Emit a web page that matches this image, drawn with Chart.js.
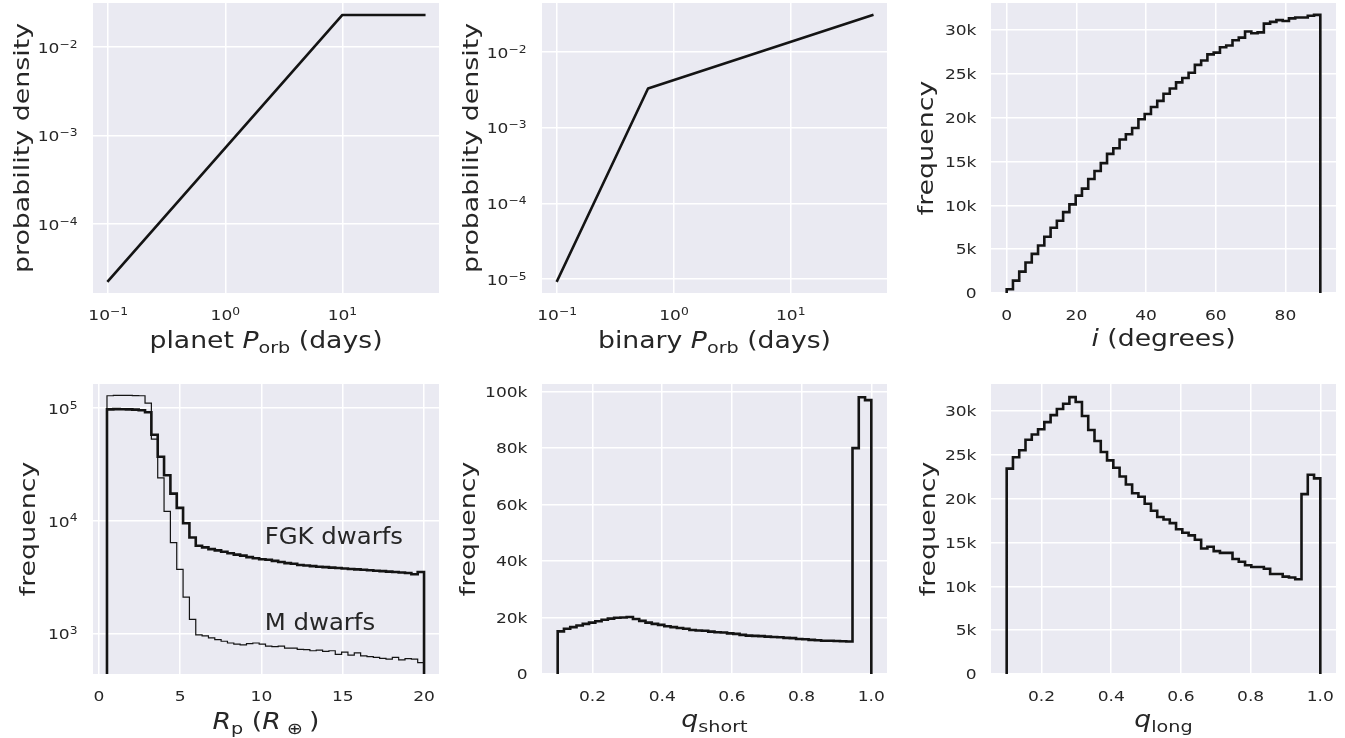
<!DOCTYPE html>
<html><head><meta charset="utf-8">
<script src="https://cdn.jsdelivr.net/npm/chart.js@4.4.1/dist/chart.umd.min.js"></script>
<style>
html,body{margin:0;padding:0;background:#fff;width:1345px;height:738px;overflow:hidden}
canvas{position:absolute}
</style></head><body>
<canvas id="c1"></canvas><canvas id="c2"></canvas><canvas id="c3"></canvas>
<canvas id="c4"></canvas><canvas id="c5"></canvas><canvas id="c6"></canvas>
<script>
// ---------------- DATA ----------------
const planetPeriod = [0.1, 10, 50];
const planetDensity = [2.27e-5, 0.023, 0.023];
const binaryPeriod = [0.1, 0.6, 50];
const binaryDensity = [9.5e-6, 3.3e-3, 0.0308];

const inclRange = [0, 90];
const inclCounts = [420,1410,2440,3470,4460,5420,6410,7440,8240,9220,10100,11100,11900,13000,13900,14800,15850,16500,17500,18100,
  18800,19800,20400,21200,21900,22700,23300,24000,24500,25100,26000,26500,27200,27400,28000,28200,28800,29100,29800,29600,
  29700,30700,30900,31100,31000,31300,31400,31400,31600,31700];

const radiusRange = [0.5, 20];
const radiusFGK = [97500,98000,97800,97600,97000,96000,92000,58000,37000,25400,17400,13000,9500,7100,
  6000,5800,5600,5450,5300,5150,5000,4900,4750,4650,4550,4500,4400,4300,4200,4150,4050,4000,3950,3900,
  3870,3830,3800,3770,3730,3700,3670,3630,3600,3570,3530,3500,3470,3430,3350,3500];
const radiusM = [129000,130000,130000,130000,129500,129000,111000,53000,24000,12100,6400,3700,2100,1330,
  970,950,910,880,850,820,800,790,810,820,800,770,760,770,740,740,720,715,700,710,
  690,700,650,680,640,670,630,620,610,600,590,610,580,595,590,550];

const qRange = [0.1, 1.0];
const qShortCounts = [15100,16000,16600,17200,17750,18200,18700,19200,19600,19900,20000,20200,19500,18800,18200,17750,17400,16900,16600,16300,
  16000,15600,15400,15300,15000,14800,14700,14400,14200,13850,13600,13500,13400,13250,13100,13000,12800,12700,12400,12300,
  12100,11950,11800,11800,11700,11600,11500,80000,98000,97000];
const qLongCounts = [23400,24700,25500,26700,27300,27900,28700,29500,30200,30800,31550,31000,29400,27800,26550,25300,24350,23500,22500,21600,
  20600,20200,19400,18600,17900,17600,17200,16500,16100,15800,15300,14300,14500,14000,13800,13800,13100,12800,12400,12200,
  12200,12000,11400,11400,11100,11000,10800,20500,22700,22300];

const periodTicks = [0.1, 1, 10];
const planetDensityTicks = [1e-4, 1e-3, 1e-2];
const binaryDensityTicks = [1e-5, 1e-4, 1e-3, 1e-2];
const inclTicks = [0, 20, 40, 60, 80];
const freq30kTicks = [0, 5000, 10000, 15000, 20000, 25000, 30000];
const radiusTicks = [0, 5, 10, 15, 20];
const radiusFreqTicks = [1e3, 1e4, 1e5];
const qTicks = [0.2, 0.4, 0.6, 0.8, 1.0];
const freq100kTicks = [0, 20000, 40000, 60000, 80000, 100000];

// ---------------- HELPERS ----------------
const SX = 1.17, TEXT = '#262626', LINE = '#141414', FONT = '"DejaVu Sans"';

function linePoints(xs, ys){ return xs.map((x,i)=>({x:x, y:ys[i]})); }
function stepPoints(range, counts, base){
  const n = counts.length, w = (range[1]-range[0])/n;
  const pts = [{x:range[0], y:base}];
  counts.forEach((c,i)=>{ pts.push({x:range[0]+i*w, y:c}); pts.push({x:range[0]+(i+1)*w, y:c}); });
  pts.push({x:range[1], y:base});
  return pts;
}
function fmtLog(v){ const e = Math.round(Math.log10(v)); return [{t:'10'},{t:(e<0?'\u2212':'')+Math.abs(e), sup:true}]; }
function fmtK(v){ return [{t: v===0 ? '0' : (v/1000)+'k'}]; }
function fmtDec(v){ return [{t: v.toFixed(1)}]; }
function fmtInt(v){ return [{t: String(v)}]; }

function drawRich(ctx, segs, x, y, o){
  ctx.save();
  ctx.translate(x, y);
  if (o.rotate) ctx.rotate(-Math.PI/2);
  ctx.scale(o.stretch, 1);
  let total = 0;
  const parts = segs.map(s=>{
    const fs = (s.sub||s.sup) ? o.size*0.72 : o.size;
    const font = (s.it ? 'italic ' : '') + fs.toFixed(2) + 'px ' + FONT;
    ctx.font = font;
    const w = ctx.measureText(s.t).width;
    total += w;
    return {s, font, w};
  });
  let cx = o.align==='center' ? -total/2 : (o.align==='right' ? -total : 0);
  ctx.fillStyle = o.color || TEXT;
  ctx.textBaseline = 'alphabetic';
  parts.forEach(p=>{
    ctx.font = p.font;
    const dy = p.s.sub ? o.size*0.2 : (p.s.sup ? -o.size*0.36 : 0);
    ctx.fillText(p.s.t, cx, dy + (o.dy||0));
    cx += p.w;
  });
  ctx.restore();
}

const panelMeta = {};
const panelPlugin = {
  id: 'panelText',
  beforeDraw(chart){
    const a = chart.chartArea, ctx = chart.ctx;
    ctx.save(); ctx.fillStyle = '#EAEAF2';
    ctx.fillRect(a.left, a.top, a.right-a.left, a.bottom-a.top);
    ctx.restore();
  },
  afterDraw(chart){
    const m = panelMeta[chart.canvas.id]; if (!m) return;
    const a = chart.chartArea, ctx = chart.ctx, xs = chart.scales.x, ys = chart.scales.y;
    m.xTicks.forEach(v=>drawRich(ctx, m.xFmt(v), xs.getPixelForValue(v), a.bottom+27, {size:14.6, stretch:SX, align:'center'}));
    const logY = m.yFmt === fmtLog;
    m.yTicks.forEach(v=>drawRich(ctx, m.yFmt(v), a.left-(logY?15.5:14.5), ys.getPixelForValue(v)+(logY?5.8:5.3), {size:14.6, stretch:SX, align:'right'}));
    drawRich(ctx, m.xTitle, (a.left+a.right)/2, a.bottom+m.xTitleBase, {size:22.8, stretch:SX, align:'center'});
    drawRich(ctx, [{t:m.yTitle}], a.left-m.yTitleOff, (a.top+a.bottom)/2, {size:22, stretch:1.22, align:'center', rotate:true, dy:0.26*22});
    (m.notes||[]).forEach(n=>drawRich(ctx, [{t:n.text}], xs.getPixelForValue(n.x), ys.getPixelForValue(n.y), {size:23, stretch:1.06, align:'left'}));
  }
};

function makePanel(p){
  const cv = document.getElementById(p.id);
  const [bl, bt, bw, bh] = p.box;
  const [pl, pt, pr, pb] = p.plot;
  cv.width = bw; cv.height = bh;
  cv.style.left = bl+'px'; cv.style.top = bt+'px';
  cv.style.width = bw+'px'; cv.style.height = bh+'px';
  panelMeta[p.id] = p;
  const gridOpts = {color:'#ffffff', lineWidth:1.5, drawTicks:false};
  new Chart(cv, {
    type: 'line',
    data: { datasets: p.datasets.map(d=>Object.assign({
      borderColor: LINE, pointRadius: 0, pointHoverRadius: 0, fill: false, tension: 0,
      borderJoinStyle: 'miter', borderCapStyle: 'butt'
    }, d)) },
    options: {
      responsive: false, animation: false, events: [],
      layout: { padding: {left:0, top: pt-bt, right: bl+bw-pr, bottom: 0} },
      plugins: { legend:{display:false}, tooltip:{enabled:false} },
      scales: {
        x: { type: p.xType, min: p.xMin, max: p.xMax, grid: gridOpts, border:{display:false},
             ticks:{display:false},
             afterBuildTicks: s=>{ s.ticks = p.xTicks.map(v=>({value:v})); },
             afterFit: s=>{ s.height = bt+bh-pb; } },
        y: { type: p.yType, min: p.yMin, max: p.yMax, grid: gridOpts, border:{display:false},
             ticks:{display:false},
             afterBuildTicks: s=>{ s.ticks = p.yTicks.map(v=>({value:v})); },
             afterFit: s=>{ s.width = pl-bl; } }
      }
    },
    plugins: [panelPlugin]
  });
}

const ROW1 = [0, 369], ROW2 = [369, 369];
const COLS = [[0,448],[448,446],[894,451]];

makePanel({id:'c1', box:[COLS[0][0],ROW1[0],COLS[0][1],ROW1[1]], plot:[93,3,439,293],
  xType:'logarithmic', xMin:Math.pow(10,-1.13), xMax:Math.pow(10,1.825),
  yType:'logarithmic', yMin:Math.pow(10,-4.78), yMax:Math.pow(10,-1.503),
  xTicks:periodTicks, yTicks:planetDensityTicks, xFmt:fmtLog, yFmt:fmtLog,
  datasets:[{data:linePoints(planetPeriod, planetDensity), borderWidth:2.6, borderJoinStyle:'round', borderCapStyle:'square'}],
  xTitle:[{t:'planet '},{t:'P',it:true},{t:'orb',sub:true},{t:' (days)'}], xTitleBase:55,
  yTitle:'probability density', yTitleOff:70});

makePanel({id:'c2', box:[COLS[1][0],ROW1[0],COLS[1][1],ROW1[1]], plot:[542,3,887,293],
  xType:'logarithmic', xMin:Math.pow(10,-1.13), xMax:Math.pow(10,1.825),
  yType:'logarithmic', yMin:Math.pow(10,-5.185), yMax:Math.pow(10,-1.352),
  xTicks:periodTicks, yTicks:binaryDensityTicks, xFmt:fmtLog, yFmt:fmtLog,
  datasets:[{data:linePoints(binaryPeriod, binaryDensity), borderWidth:2.6, borderJoinStyle:'round', borderCapStyle:'square'}],
  xTitle:[{t:'binary '},{t:'P',it:true},{t:'orb',sub:true},{t:' (days)'}], xTitleBase:55,
  yTitle:'probability density', yTitleOff:70});

makePanel({id:'c3', box:[COLS[2][0],ROW1[0],COLS[2][1],ROW1[1]], plot:[991,3,1336,293],
  xType:'linear', xMin:-4.5, xMax:94.5, yType:'linear', yMin:0, yMax:33050,
  xTicks:inclTicks, yTicks:freq30kTicks, xFmt:fmtInt, yFmt:fmtK,
  datasets:[{data:stepPoints(inclRange, inclCounts, 0), borderWidth:2.6}],
  xTitle:[{t:'i',it:true},{t:' (degrees)'}], xTitleBase:53,
  yTitle:'frequency', yTitleOff:64});

makePanel({id:'c4', box:[COLS[0][0],ROW2[0],COLS[0][1],ROW2[1]], plot:[93,384,439,674],
  xType:'linear', xMin:-0.36, xMax:20.92, yType:'logarithmic', yMin:435, yMax:164000,
  xTicks:radiusTicks, yTicks:radiusFreqTicks, xFmt:fmtInt, yFmt:fmtLog,
  datasets:[{data:stepPoints(radiusRange, radiusM, 1), borderWidth:1.2},
            {data:stepPoints(radiusRange, radiusFGK, 1), borderWidth:2.6}],
  xTitle:[{t:'R',it:true},{t:'p',sub:true},{t:' ('},{t:'R',it:true},{t:' \u2295 ',sub:true},{t:')'}], xTitleBase:55,
  yTitle:'frequency', yTitleOff:64,
  notes:[{text:'FGK dwarfs', x:10.2, y:6200},{text:'M dwarfs', x:10.2, y:1060}]});

makePanel({id:'c5', box:[COLS[1][0],ROW2[0],COLS[1][1],ROW2[1]], plot:[542,384,887,674],
  xType:'linear', xMin:0.055, xMax:1.045, yType:'linear', yMin:0, yMax:102700,
  xTicks:qTicks, yTicks:freq100kTicks, xFmt:fmtDec, yFmt:fmtK,
  datasets:[{data:stepPoints(qRange, qShortCounts, 0), borderWidth:2.6}],
  xTitle:[{t:'q',it:true},{t:'short',sub:true}], xTitleBase:53,
  yTitle:'frequency', yTitleOff:73});

makePanel({id:'c6', box:[COLS[2][0],ROW2[0],COLS[2][1],ROW2[1]], plot:[991,384,1336,674],
  xType:'linear', xMin:0.055, xMax:1.045, yType:'linear', yMin:0, yMax:33050,
  xTicks:qTicks, yTicks:freq30kTicks, xFmt:fmtDec, yFmt:fmtK,
  datasets:[{data:stepPoints(qRange, qLongCounts, 0), borderWidth:2.6}],
  xTitle:[{t:'q',it:true},{t:'long',sub:true}], xTitleBase:53,
  yTitle:'frequency', yTitleOff:62});
</script>
</body></html>
